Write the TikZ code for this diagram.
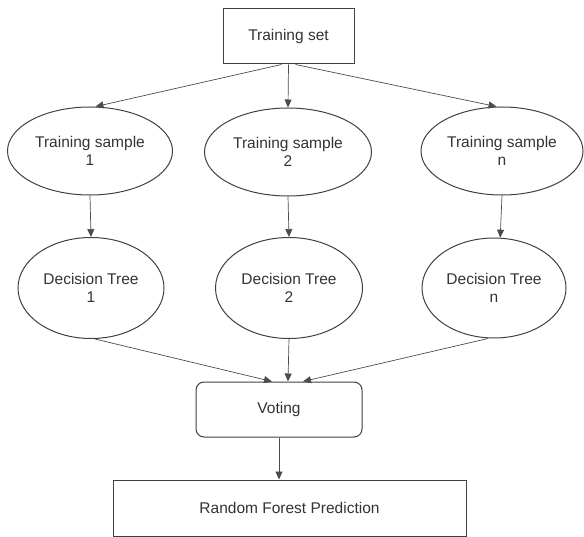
\documentclass[tikz,border=0pt]{standalone}
\usepackage{fontspec}
\setmainfont{Liberation Sans}
\usetikzlibrary{shapes.geometric,arrows.meta}
\begin{document}
\begin{tikzpicture}[x=1bp,y=-1bp,
  every node/.style={font=\fontsize{15.5bp}{18bp}\selectfont, text=black!80, align=center},
  box/.style={draw=black!75, line width=1bp, inner sep=0pt},
  oval/.style={ellipse, draw=black!75, line width=1bp, inner sep=0pt},
  conn/.style={draw=black!70, line width=0.7bp, -{Triangle[length=8bp,width=7bp]}}]
\useasboundingbox (0,0) rectangle (584,537);
% top box
\node[box, minimum width=131bp, minimum height=55bp] (ts) at (288.5,36.5) {Training set};
% samples
\node[oval, minimum width=165bp, minimum height=88bp] (s1) at (90,151) {Training sample\\1};
\node[oval, minimum width=167bp, minimum height=88bp] (s2) at (288,152) {Training sample\\2};
\node[oval, minimum width=162bp, minimum height=88bp] (sn) at (502,151) {Training sample\\n};
% trees
\node[oval, minimum width=146bp, minimum height=101bp] (d1) at (91,288) {Decision Tree\\1};
\node[oval, minimum width=147bp, minimum height=101bp] (d2) at (289,288) {Decision Tree\\2};
\node[oval, minimum width=144bp, minimum height=100bp] (dn) at (494,288) {Decision Tree\\n};
% voting
\node[box, rounded corners=8bp, minimum width=166bp, minimum height=55bp] (v) at (279,409.5) {Voting};
% prediction
\node[box, minimum width=353bp, minimum height=56bp] (rf) at (289.5,508) {Random Forest Prediction};
% connectors
\draw[conn] ([xshift=-7bp]ts.south) -- (s1.83);
\draw[conn] (ts.south) -- (s2.north);
\draw[conn] ([xshift=7bp]ts.south) -- (sn.97);
\draw[conn] (s1.south) -- (d1.north);
\draw[conn] (s2.south) -- (d2.north);
\draw[conn] (sn.south) -- (dn.83);
\draw[conn] ([xshift=4bp]d1.south) -- ([xshift=-7bp]v.north);
\draw[conn] (d2.south) -- ([xshift=9bp]v.north);
\draw[conn] ([xshift=-6bp]dn.south) -- ([xshift=24bp]v.north);
\draw[conn] (v.south) -- (v.south |- rf.north);
\end{tikzpicture}
\end{document}
